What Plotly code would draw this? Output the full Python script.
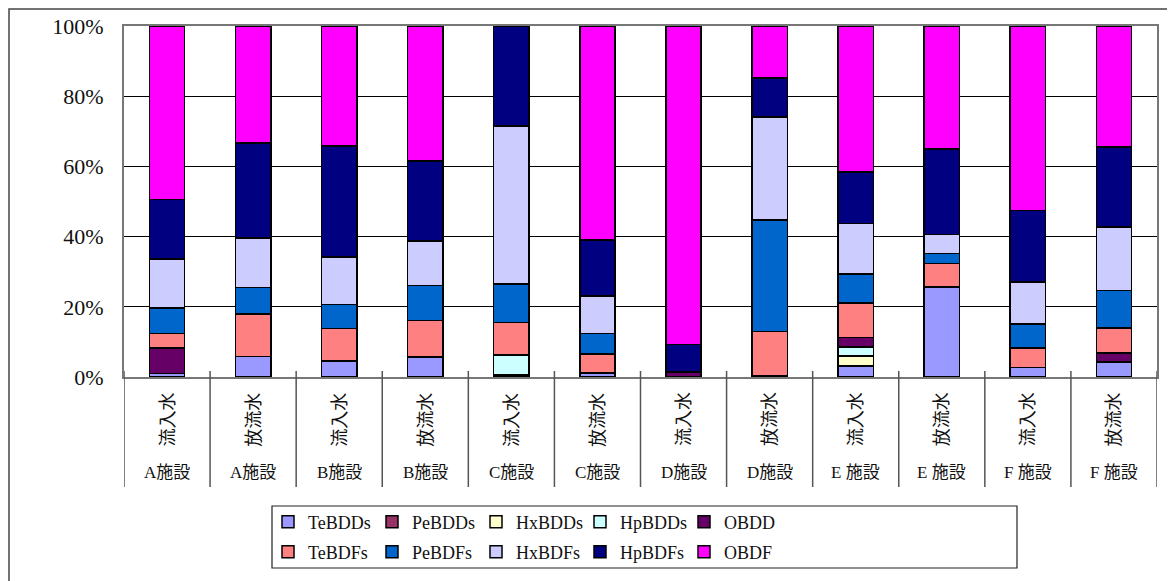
import plotly.graph_objects as go

facilities = ["A施設", "A施設", "B施設", "B施設", "C施設", "C施設",
              "D施設", "D施設", "E 施設", "E 施設", "F 施設", "F 施設"]
samples = ["流入水", "放流水", "流入水", "放流水", "流入水", "放流水",
           "流入水", "放流水", "流入水", "放流水", "流入水", "放流水"]

series_names = ["TeBDDs", "PeBDDs", "HxBDDs", "HpBDDs", "OBDD",
                "TeBDFs", "PeBDFs", "HxBDFs", "HpBDFs", "OBDF"]
colors = ["#9999FF", "#993366", "#FFFFCC", "#CCFFFF", "#660066",
          "#FF8080", "#0066CC", "#CCCCFF", "#000080", "#FF00FF"]

TeBDDs = [1.0, 5.9, 4.6, 5.7, 0, 1.2, 0, 0.4, 3.2, 25.6, 2.7, 4.3]
PeBDDs = [0, 0, 0, 0, 0.6, 0, 0, 0, 0, 0, 0, 0]
HxBDDs = [0, 0, 0, 0, 0, 0, 0, 0, 2.8, 0, 0, 0]
HpBDDs = [0, 0, 0, 0, 5.7, 0, 0, 0, 2.6, 0, 0, 0]
OBDD = [7.3, 0, 0, 0, 0, 0, 1.4, 0, 2.7, 0, 0, 2.5]
TeBDFs = [4.1, 12.1, 9.2, 10.4, 9.2, 5.4, 0, 12.6, 9.8, 6.8, 5.6, 7.2]
PeBDFs = [7.3, 7.5, 6.8, 9.9, 11.0, 5.8, 0, 31.7, 8.3, 2.8, 6.8, 10.7]
HxBDFs = [13.9, 14.1, 13.6, 12.7, 45.0, 10.7, 0, 29.4, 14.4, 5.4, 11.9, 18.1]
HpBDFs = [17.0, 27.1, 31.6, 22.8, 28.5, 15.9, 7.9, 11.1, 14.6, 24.4, 20.4, 22.7]
OBDF = [49.4, 33.3, 34.2, 38.5, 0, 61.0, 90.7, 14.8, 41.6, 35.0, 52.6, 34.5]

series_values = [TeBDDs, PeBDDs, HxBDDs, HpBDDs, OBDD,
                 TeBDFs, PeBDFs, HxBDFs, HpBDFs, OBDF]

ytick_vals = [0, 20, 40, 60, 80, 100]
ytick_text = ["0%", "20%", "40%", "60%", "80%", "100%"]

FONT = "Liberation Serif, 'Noto Sans CJK JP', serif"

keys = [f"{f}_{s}_{i}" for i, (f, s) in enumerate(zip(facilities, samples))]

fig = go.Figure()
for idx, (name, vals, col) in enumerate(zip(series_names, series_values, colors)):
    fig.add_trace(go.Bar(
        x=keys,
        y=[v if v else None for v in vals],
        name=name,
        marker=dict(color=col, line=dict(color="black", width=1.5)),
        legend="legend" if idx < 5 else "legend2",
    ))

# page has an 8px body margin; geometry below is in page pixels
OFF = 8
W, H = 1175 - OFF, 581 - OFF
PL, PR, PT, PB = 124, 1157, 26, 377          # plot area in page px
L, T = PL - OFF, PT - OFF
R, B = W - (PR - OFF), H - (PB - OFF)
pw, ph = W - L - R, H - T - B


def px_x(px):
    return (px - PL) / pw


def px_y(py):
    return (PB - py) / ph


shapes = []
# category separators (below axis, with short inner ticks)
for i in range(len(keys) + 1):
    shapes.append(dict(type="line", xref="x", yref="paper",
                       x0=i - 0.5, x1=i - 0.5, y0=px_y(371), y1=px_y(487),
                       line=dict(color="#555555", width=1.5)))
# outer chart border
shapes.append(dict(type="rect", xref="paper", yref="paper",
                   x0=px_x(OFF + 1), x1=px_x(1200), y0=px_y(620), y1=px_y(OFF + 1),
                   line=dict(color="#444444", width=1.5), layer="below"))
# legend box
shapes.append(dict(type="rect", xref="paper", yref="paper",
                   x0=px_x(272), x1=px_x(1017), y0=px_y(568), y1=px_y(506),
                   line=dict(color="#222222", width=1.2)))

annotations = []
for k, f, s in zip(keys, facilities, samples):
    annotations.append(dict(x=k, xref="x", yref="paper", y=px_y(419.5),
                            text=s, textangle=-90, showarrow=False,
                            font=dict(family=FONT, size=18, color="#111111"),
                            xanchor="center", yanchor="middle"))
    annotations.append(dict(x=k, xref="x", yref="paper", y=px_y(473),
                            text=f, showarrow=False,
                            font=dict(family=FONT, size=17, color="#111111"),
                            xanchor="center", yanchor="middle"))

legend_common = dict(orientation="h", xanchor="left", yanchor="middle",
                     bgcolor="rgba(0,0,0,0)", borderwidth=0,
                     font=dict(family=FONT, size=18, color="#111111"),
                     traceorder="normal", entrywidth=59, itemwidth=30)

fig.update_layout(
    width=W, height=H,
    margin=dict(l=L, r=R, t=T, b=B, autoexpand=False),
    paper_bgcolor="white", plot_bgcolor="white",
    barmode="stack", bargap=0.59,
    showlegend=True,
    legend=dict(x=px_x(268), y=px_y(522), **legend_common),
    legend2=dict(x=px_x(268), y=px_y(552), **legend_common),
    shapes=shapes,
    annotations=annotations,
    font=dict(family=FONT, color="#111111"),
)
fig.update_xaxes(range=[-0.5, len(keys) - 0.5], showticklabels=False,
                 showgrid=False, showline=True, linecolor="#777777",
                 linewidth=2, mirror=True, ticks="")
fig.update_yaxes(range=[0, 100], tickvals=ytick_vals, ticktext=ytick_text,
                 showgrid=True, gridcolor="black", gridwidth=1,
                 showline=True, linecolor="#777777", linewidth=2, mirror=True,
                 ticks="", ticklabelstandoff=14, zeroline=False,
                 tickfont=dict(family=FONT, size=22, color="#111111"))

fig.write_html("out.html")
